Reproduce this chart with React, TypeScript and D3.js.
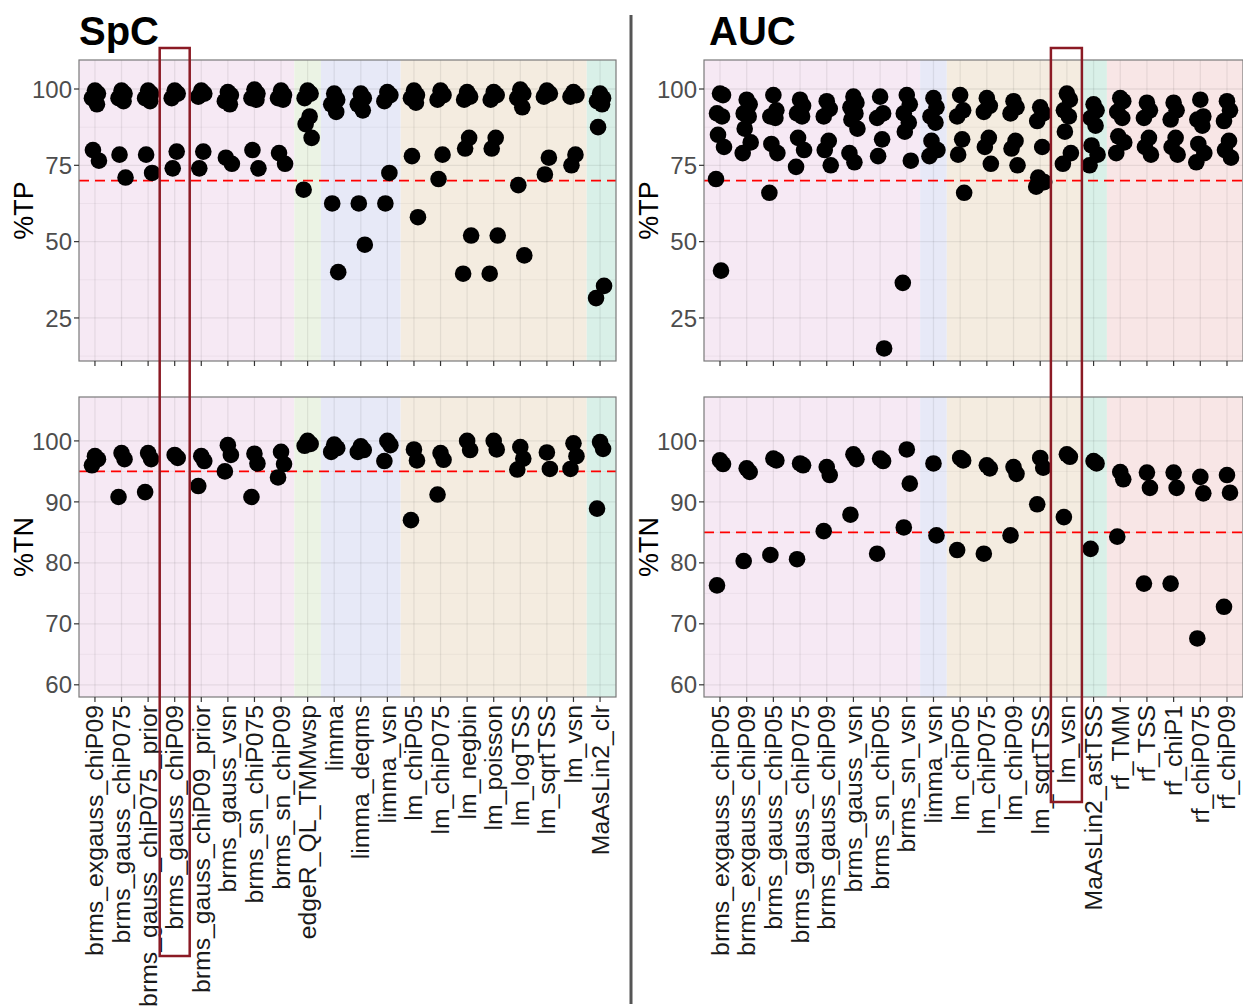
import React from "react";
import * as d3 from "d3";

// ---- data ----
const spcCategories = [
  "brms_exgauss_chiP09", "brms_gauss_chiP075", "brms_gauss_chiP075_prior", "brms_gauss_chiP09",
  "brms_gauss_chiP09_prior", "brms_gauss_vsn", "brms_sn_chiP075", "brms_sn_chiP09",
  "edgeR_QL_TMMwsp", "limma", "limma_deqms", "limma_vsn", "lm_chiP05", "lm_chiP075",
  "lm_negbin", "lm_poisson", "lm_logTSS", "lm_sqrtTSS", "lm_vsn", "MaAsLin2_clr",
];
const spcGroups = [
  "brms", "brms", "brms", "brms", "brms", "brms", "brms", "brms",
  "edgeR", "limma", "limma", "limma", "lm", "lm", "lm", "lm", "lm", "lm", "lm", "MaAsLin2",
];
const spcTP = [
  [99.5, 98.5, 97, 95, 80, 76.5],
  [99.5, 98.5, 97, 96, 78.5, 71],
  [99.5, 98.5, 97, 96, 78.5, 72.5],
  [99.5, 98.5, 97, 79.5, 74],
  [99.5, 98.5, 97.5, 79.5, 74],
  [99, 98, 96, 95, 77.5, 75.5],
  [99.8, 98.5, 97, 96.5, 80, 74],
  [99.5, 98, 97, 96.5, 79, 75.5],
  [99.5, 98.5, 97, 91, 88.5, 84, 67],
  [98.5, 96.5, 95, 92.5, 62.5, 40],
  [98.5, 97, 95, 93, 62.5, 49],
  [99, 98, 96, 72.5, 62.5],
  [99.5, 98, 97, 95.5, 78, 58],
  [99.5, 98, 96.5, 78.5, 70.5],
  [99, 97.5, 96.5, 84, 80.5, 52, 39.5],
  [99, 98, 96.5, 84, 80.5, 52, 39.5],
  [99.8, 98.5, 97, 94, 68.5, 45.5],
  [99.5, 98.5, 97.5, 77.5, 72],
  [99, 98, 97.5, 78.5, 75],
  [98.5, 97, 96, 95, 87.5, 35.5, 31.5],
];
const spcTN = [
  [97.5, 97, 96],
  [98, 97, 90.8],
  [98, 97, 91.6],
  [97.7, 97.2],
  [97.5, 96.7, 92.6],
  [99.3, 97.7, 95],
  [97.9, 96.3, 90.8],
  [98.2, 96.2, 94],
  [100, 99.5, 99.2],
  [99.4, 98.8, 98.2],
  [99.1, 98.5, 98.2],
  [100, 99.3, 96.7],
  [98.6, 96.8, 87],
  [98, 96.9, 91.2],
  [100, 98.5],
  [100, 98.6],
  [99, 97.1, 95.3],
  [98.1, 95.4],
  [99.6, 97.5, 95.4],
  [99.8, 98.7, 88.9],
];

const aucCategories = [
  "brms_exgauss_chiP05", "brms_exgauss_chiP09", "brms_gauss_chiP05", "brms_gauss_chiP075",
  "brms_gauss_chiP09", "brms_gauss_vsn", "brms_sn_chiP05", "brms_sn_vsn", "limma_vsn",
  "lm_chiP05", "lm_chiP075", "lm_chiP09", "lm_sqrtTSS", "lm_vsn", "MaAsLin2_astTSS",
  "rf_TMM", "rf_TSS", "rf_chiP1", "rf_chiP075", "rf_chiP09",
];
const aucGroups = [
  "brms", "brms", "brms", "brms", "brms", "brms", "brms", "brms", "limma",
  "lm", "lm", "lm", "lm", "lm", "MaAsLin2", "rf", "rf", "rf", "rf", "rf",
];
const aucTP = [
  [98.5, 98, 92, 91, 85, 81, 70.5, 40.5],
  [96.5, 95, 92, 91, 87, 82.5, 79],
  [98, 93, 91, 90.5, 82, 79, 66],
  [96.5, 94.5, 92, 91, 84, 80, 74.5],
  [96, 93.5, 91, 83, 80, 75],
  [97.5, 95.5, 94, 92, 90, 87, 79, 76],
  [97.5, 92, 90.5, 83.5, 78, 15],
  [98, 95, 92, 89, 86, 76.5, 36.5],
  [97, 94, 91, 89, 83, 80, 78],
  [98, 93, 91, 83.5, 78.5, 66],
  [97, 94.5, 92.5, 84, 81, 75.5],
  [96, 94, 92, 83, 80.5, 75],
  [94, 92, 89.5, 81, 71, 69.5, 68],
  [98.5, 96.5, 93, 91, 86, 79, 75.5],
  [95, 93, 90.5, 88, 81.5, 78.5, 75],
  [97, 96, 92.5, 90.5, 84.5, 82.5, 79],
  [95.5, 93, 90.5, 84, 81, 78.5],
  [95.5, 93, 90, 84, 81, 78.5],
  [96.5, 91, 90, 88, 82, 79, 76],
  [96, 93, 89.5, 83, 80, 77.5],
];
const aucTN = [
  [96.8, 96.2, 76.3],
  [95.5, 94.9, 80.3],
  [97.1, 96.8, 81.3],
  [96.3, 96, 80.6],
  [95.7, 94.4, 85.2],
  [97.8, 97, 87.9],
  [97.1, 96.7, 81.5],
  [98.6, 93, 85.8],
  [96.3, 84.5],
  [97.2, 96.8, 82.1],
  [96, 95.5, 81.5],
  [95.7, 94.6, 84.5],
  [97.2, 95.6, 89.6],
  [97.8, 97.4, 87.5],
  [96.7, 96.3, 82.3],
  [94.9, 93.7, 84.3],
  [94.8, 92.3, 76.6],
  [94.8, 92.3, 76.6],
  [94.1, 91.4, 67.6],
  [94.4, 91.5, 72.8],
];

const tpTicks = [25, 50, 75, 100];
const tnTicks = [60, 70, 80, 90, 100];

const groupFill: Record<string, string> = {
  brms: "#f6e9f4",
  edgeR: "#ebf3e4",
  limma: "#e7e9f7",
  lm: "#f4ece0",
  MaAsLin2: "#d9f0e8",
  rf: "#f8e6e6",
};

// small fixed horizontal offsets so overlapping dots spread a little
const jitter = [0, 3, -3, 2, -2, 4, -4, 1];

type PanelProps = {
  x0: number; x1: number; y0: number; y1: number;
  categories: string[]; groups: string[]; values: number[][];
  domain: [number, number]; ticks: number[]; threshold: number;
  yTitle: string; showLabels: boolean;
};

const Panel = ({ x0, x1, y0, y1, categories, groups, values, domain, ticks, threshold, yTitle, showLabels }: PanelProps) => {
  const x = d3.scalePoint<string>().domain(categories).range([x0, x1]).padding(0.6);
  const y = d3.scaleLinear().domain(domain).range([y1, y0]);
  const step = x.step();
  const half = (ticks[1] - ticks[0]) / 2;
  const minor = [ticks[0] - half, ...d3.pairs(ticks).map(([a, b]) => (a + b) / 2)].filter((t) => t > domain[0]);

  // group bands
  const bands: { g: string; a: number; b: number }[] = [];
  categories.forEach((c, i) => {
    const g = groups[i];
    const cx = x(c)!;
    const last = bands[bands.length - 1];
    if (last && last.g === g) last.b = cx + step / 2;
    else bands.push({ g, a: cx - step / 2, b: cx + step / 2 });
  });
  bands[0].a = x0;
  bands[bands.length - 1].b = x1;

  return (
    <g>
      {bands.map((bd, i) => (
        <rect key={i} x={bd.a} y={y0} width={bd.b - bd.a} height={y1 - y0} fill={groupFill[bd.g]} />
      ))}
      {minor.map((t) => (
        <line key={"m" + t} x1={x0} x2={x1} y1={y(t)} y2={y(t)} stroke="rgba(0,0,0,0.045)" strokeWidth={1} />
      ))}
      {ticks.map((t) => (
        <line key={"g" + t} x1={x0} x2={x1} y1={y(t)} y2={y(t)} stroke="rgba(0,0,0,0.07)" strokeWidth={1.3} />
      ))}
      {categories.map((c) => (
        <line key={"v" + c} x1={x(c)} x2={x(c)} y1={y0} y2={y1} stroke="rgba(0,0,0,0.07)" strokeWidth={1.3} />
      ))}
      <line x1={x0} x2={x1} y1={y(threshold)} y2={y(threshold)} stroke="#ff0000" strokeWidth={1.6} strokeDasharray="10,6" />
      {values.map((vals, i) =>
        vals.map((v, j) => (
          <circle key={i + "-" + j} cx={x(categories[i])! + jitter[j % jitter.length]} cy={y(v)} r={8.3} fill="#000" />
        ))
      )}
      <rect x={x0} y={y0} width={x1 - x0} height={y1 - y0} fill="none" stroke="#7a7a7a" strokeWidth={1.2} />
      {ticks.map((t) => (
        <g key={"t" + t}>
          <line x1={x0 - 5} x2={x0} y1={y(t)} y2={y(t)} stroke="#333" strokeWidth={1.2} />
          <text x={x0 - 7} y={y(t)} dy="0.36em" textAnchor="end" fontSize={24} fill="#4d4d4d">{t}</text>
        </g>
      ))}
      {categories.map((c) => (
        <line key={"xt" + c} x1={x(c)} x2={x(c)} y1={y1} y2={y1 + 5} stroke="#333" strokeWidth={1.2} />
      ))}
      {showLabels &&
        categories.map((c) => (
          <text key={"xl" + c} transform={`translate(${x(c)! + 8.5},${y1 + 8}) rotate(-90)`} textAnchor="end" fontSize={24.8} fill="#1a1a1a">
            {c}
          </text>
        ))}
      <text transform={`translate(${x0 - 46},${(y0 + y1) / 2}) rotate(-90)`} textAnchor="middle" fontSize={27} fill="#000">
        {yTitle}
      </text>
    </g>
  );
};

export default function App() {
  const left = { x0: 79, x1: 616 };
  const right = { x0: 704, x1: 1243 };
  const top = { y0: 60, y1: 361 };
  const bottom = { y0: 397, y1: 697 };
  const tpDomain: [number, number] = [10.9, 109.5];
  const tnDomain: [number, number] = [58, 107.2];

  const xl = d3.scalePoint<string>().domain(spcCategories).range([left.x0, left.x1]).padding(0.6);
  const xr = d3.scalePoint<string>().domain(aucCategories).range([right.x0, right.x1]).padding(0.6);

  return (
    <div style={{ position: "absolute", left: 0, top: 0 }}>
      <svg width={1243} height={1006} style={{ display: "block", fontFamily: "Liberation Sans, Arial, sans-serif" }}>
        <rect width={1243} height={1006} fill="#fff" />
        <text x={79} y={45} fontSize={40} fontWeight="bold">SpC</text>
        <text x={709} y={45} fontSize={40} fontWeight="bold">AUC</text>

        <Panel {...left} {...top} categories={spcCategories} groups={spcGroups} values={spcTP}
          domain={tpDomain} ticks={tpTicks} threshold={70} yTitle="%TP" showLabels={false} />
        <Panel {...left} {...bottom} categories={spcCategories} groups={spcGroups} values={spcTN}
          domain={tnDomain} ticks={tnTicks} threshold={95} yTitle="%TN" showLabels={true} />
        <Panel {...right} {...top} categories={aucCategories} groups={aucGroups} values={aucTP}
          domain={tpDomain} ticks={tpTicks} threshold={70} yTitle="%TP" showLabels={false} />
        <Panel {...right} {...bottom} categories={aucCategories} groups={aucGroups} values={aucTN}
          domain={tnDomain} ticks={tnTicks} threshold={85} yTitle="%TN" showLabels={true} />

        <line x1={631} x2={631} y1={15} y2={1004} stroke="#555" strokeWidth={3} />

        <rect x={xl("brms_gauss_chiP09")! - 15} y={48} width={30} height={908} fill="none" stroke="#8b1a24" strokeWidth={2.5} />
        <rect x={xr("lm_vsn")! - 16} y={48} width={31} height={754} fill="none" stroke="#8b1a24" strokeWidth={2.5} />
      </svg>
    </div>
  );
}
